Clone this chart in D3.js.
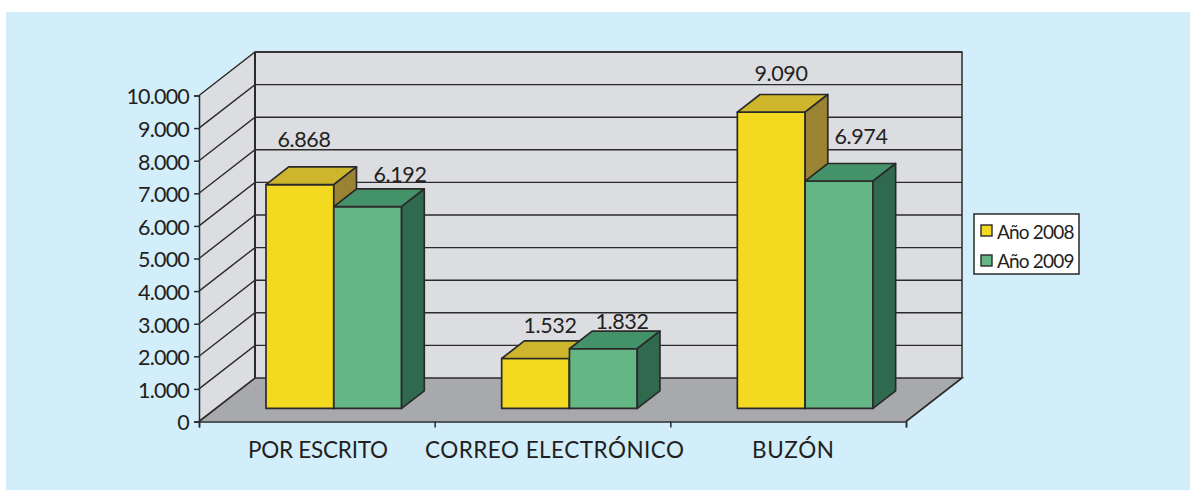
<!DOCTYPE html>
<html>
<head>
<meta charset="utf-8">
<script src="https://cdn.jsdelivr.net/npm/d3@7"></script>
<style>
  html, body { margin: 0; padding: 0; background: #fff; }
  text { font-family: Lato, sans-serif; fill: #231f20; }
</style>
</head>
<body>
<svg width="1190" height="490"></svg>
<script>
const categories = ["POR ESCRITO", "CORREO ELECTRÓNICO", "BUZÓN"];
const seriesNames = ["Año 2008", "Año 2009"];
const values2008 = [6868, 1532, 9090];
const values2009 = [6192, 1832, 6974];
const valueLabels2008 = ["6.868", "1.532", "9.090"];
const valueLabels2009 = ["6.192", "1.832", "6.974"];
const yTicks = [0, 1000, 2000, 3000, 4000, 5000, 6000, 7000, 8000, 9000, 10000];

const front = ["#f3da20", "#65b685"];
const top_ = ["#cdb62c", "#44926a"];
const side = ["#9a8433", "#2f6a4f"];
const line = "#2b2a2b";

const svg = d3.select("svg");

svg.append("rect")
  .attr("x", 6).attr("y", 12)
  .attr("width", 1184).attr("height", 478)
  .attr("fill", "#d2eefb");

// front plane scales, depth is added on top in px()
const x = d3.scaleBand().domain(d3.range(categories.length)).range([199, 906]);
const y = d3.scaleLinear().domain([0, 10000]).range([421.5, 95.5]);
const depthX = d3.scaleLinear().domain([0, 1]).range([0, 56]);
const depthY = d3.scaleLinear().domain([0, 1]).range([0, -43.5]);

const px = (xv, v, z) => [xv + depthX(z), y(v) + depthY(z)];
const path = (pts) => d3.line()(pts) + "Z";

const x0 = x.range()[0], x1 = x.range()[1], vMax = 10000;

// walls and floor
const g = svg.append("g");
g.append("path")
  .attr("d", path([px(x0, 0, 0), px(x0, 0, 1), px(x0, vMax, 1), px(x0, vMax, 0)]))
  .attr("fill", "#dcdde0");
g.append("path")
  .attr("d", path([px(x0, 0, 1), px(x1, 0, 1), px(x1, vMax, 1), px(x0, vMax, 1)]))
  .attr("fill", "#dcdde0");
g.append("path")
  .attr("d", path([px(x0, 0, 0), px(x1, 0, 0), px(x1, 0, 1), px(x0, 0, 1)]))
  .attr("fill", "#a8a9ad");

// grid lines
yTicks.slice(1).forEach((t) => {
  g.append("path")
    .attr("d", d3.line()([px(x0, t, 0), px(x0, t, 1), px(x1, t, 1)]))
    .attr("fill", "none").attr("stroke", line).attr("stroke-width", 1.4);
});
g.append("path")
  .attr("d", d3.line()([px(x0, vMax, 1), px(x0, 0, 1)]))
  .attr("stroke", line).attr("stroke-width", 2);
g.append("path")
  .attr("d", d3.line()([px(x0, vMax, 1), px(x1, vMax, 1), px(x1, 0, 1)]))
  .attr("fill", "none").attr("stroke", line).attr("stroke-width", 1.5);
g.append("path")
  .attr("d", d3.line()([px(x0, 0, 0), px(x0, 0, 1), px(x1, 0, 1), px(x1, 0, 0)]))
  .attr("fill", "none").attr("stroke", line).attr("stroke-width", 1.6);

// y axis and category axis from d3-axis
const yAxis = svg.append("g")
  .attr("transform", `translate(${x0},0)`)
  .call(d3.axisLeft(y).tickValues(yTicks).tickSize(5).tickPadding(5)
    .tickFormat((d) => d3.format(",")(d).replace(/,/g, ".")));
yAxis.selectAll("text")
  .attr("font-size", 21.5)
  .attr("letter-spacing", -0.8)
  .attr("dy", "0.39em");
yAxis.selectAll("path,line").attr("stroke", line).attr("stroke-width", 1.5);

const tickX = d3.scaleLinear().domain([0, categories.length]).range([x0, x1]);
const xAxis = svg.append("g")
  .attr("transform", `translate(0,${y(0)})`)
  .call(d3.axisBottom(tickX).tickValues(d3.range(categories.length + 1))
    .tickSize(6).tickFormat(""));
xAxis.selectAll("path,line").attr("stroke", line).attr("stroke-width", 1.5);

// reference labels are set in a wider face than Lato, so fit the widths
const catWidths = [140, 259, 82];
const catCentres = [318, 554.5, 793];
svg.append("g").selectAll("text")
  .data(categories)
  .join("text")
  .attr("x", (d, i) => catCentres[i])
  .attr("y", 457.5)
  .attr("text-anchor", "middle")
  .attr("font-size", 22.5)
  .attr("textLength", (d, i) => catWidths[i])
  .attr("lengthAdjust", "spacing")
  .text((d) => d);

// bars
const barStart = 67, barW = 67.8, zFront = 0.3, zBack = 0.705;
const allSeries = [values2008, values2009];
const barG = svg.append("g")
  .attr("stroke", line).attr("stroke-width", 1.7).attr("stroke-linejoin", "round");

categories.forEach((c, i) => {
  allSeries.forEach((vals, s) => {
    const l = x(i) + barStart + s * barW - depthX(zFront);
    const r = l + barW;
    const v = vals[i];
    barG.append("path")
      .attr("d", path([px(l, 0, zFront), px(r, 0, zFront), px(r, v, zFront), px(l, v, zFront)]))
      .attr("fill", front[s]);
    barG.append("path")
      .attr("d", path([px(l, v, zFront), px(r, v, zFront), px(r, v, zBack), px(l, v, zBack)]))
      .attr("fill", top_[s]);
    barG.append("path")
      .attr("d", path([px(r, 0, zFront), px(r, 0, zBack), px(r, v, zBack), px(r, v, zFront)]))
      .attr("fill", side[s]);
  });
});

// value labels
const labelOffsets = [[[304, 147], [400, 182]], [[550, 333], [622, 329]], [[781, 81], [861, 144]]];
[valueLabels2008, valueLabels2009].forEach((labels, s) => {
  labels.forEach((t, i) => {
    svg.append("text")
      .attr("x", labelOffsets[i][s][0])
      .attr("y", labelOffsets[i][s][1])
      .attr("text-anchor", "middle")
      .attr("font-size", 21.5)
      .attr("letter-spacing", -0.4)
      .text(t);
  });
});

// legend
const legend = svg.append("g").attr("transform", "translate(974,214)");
legend.append("rect")
  .attr("width", 105).attr("height", 60)
  .attr("fill", "#fff").attr("stroke", line).attr("stroke-width", 1.5);
seriesNames.forEach((n, s) => {
  legend.append("rect")
    .attr("x", 7).attr("y", 11 + s * 30)
    .attr("width", 11).attr("height", 11)
    .attr("fill", front[s]).attr("stroke", line).attr("stroke-width", 1.4);
  legend.append("text")
    .attr("x", 23).attr("y", 24.5 + s * 29.5)
    .attr("font-size", 19)
    .attr("letter-spacing", -0.8)
    .text(n);
});
</script>
</body>
</html>
